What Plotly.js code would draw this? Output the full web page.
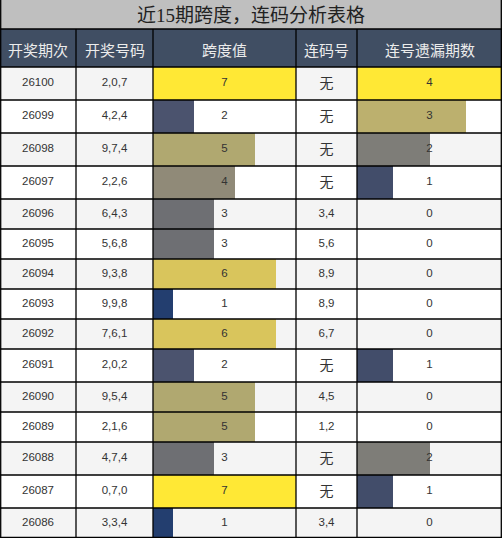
<!DOCTYPE html>
<html>
<head>
<meta charset="utf-8">
<script src="https://cdn.plot.ly/plotly-3.0.1.min.js"></script>
<style>
  html, body { margin: 0; padding: 0; background: #fff; }
  #chart { width: 502px; height: 538px; }
</style>
</head>
<body>
<div id="chart"></div>
<script>
(function() {
  'use strict';

  var title = '近15期跨度，连码分析表格';
  var headers = ['开奖期次', '开奖号码', '跨度值', '连码号', '连号遗漏期数'];
  var periods = ['26100', '26099', '26098', '26097', '26096', '26095', '26094', '26093',
                 '26092', '26091', '26090', '26089', '26088', '26087', '26086'];
  var draws = ['2,0,7', '4,2,4', '9,7,4', '2,2,6', '6,4,3', '5,6,8', '9,3,8', '9,9,8',
               '7,6,1', '2,0,2', '9,5,4', '2,1,6', '4,7,4', '0,7,0', '3,3,4'];
  var spans = [7, 2, 5, 4, 3, 3, 6, 1, 6, 2, 5, 5, 3, 7, 1];
  var pairs = ['无', '无', '无', '无', '3,4', '5,6', '8,9', '8,9',
               '6,7', '无', '4,5', '1,2', '无', '无', '3,4'];
  var misses = [4, 3, 2, 1, 0, 0, 0, 0, 0, 1, 0, 0, 2, 1, 0];

  // colour per value
  var spanColors = { 1: '#233e6f', 2: '#4b536e', 3: '#6e6f73', 4: '#908a78',
                     5: '#b0a870', 6: '#d9c55c', 7: '#ffe835' };
  var missColors = { 1: '#424d6a', 2: '#7e7d78', 3: '#bcb06e', 4: '#ffe835' };

  var W = 502, H = 538;
  var colX = [0, 76, 153, 296, 357, 502];
  var titleBottom = 29, headBottom = 67;

  // row geometry ("无" rows are a bit taller)
  var rowH = pairs.map(function(p) { return p === '无' ? 33 : 30; });
  var rowTop = [], rowMid = [];
  var acc = headBottom;
  rowH.forEach(function(h) { rowTop.push(acc); rowMid.push(acc + h / 2); acc += h; });

  function px(x) { return x / W; }
  function py(y) { return 1 - y / H; }

  function colMid(i) { return (colX[i] + colX[i + 1]) / 2; }

  var shapes = [];
  // title + header backgrounds
  shapes.push({ type: 'rect', xref: 'paper', yref: 'paper', layer: 'below',
    x0: 0, x1: 1, y0: py(0), y1: py(titleBottom), fillcolor: '#bfbfbf', line: { width: 0 } });
  shapes.push({ type: 'rect', xref: 'paper', yref: 'paper', layer: 'below',
    x0: 0, x1: 1, y0: py(titleBottom), y1: py(headBottom), fillcolor: '#404e63', line: { width: 0 } });
  // striped rows
  rowTop.forEach(function(t, i) {
    shapes.push({ type: 'rect', xref: 'paper', yref: 'paper', layer: 'below',
      x0: 0, x1: 1, y0: py(t), y1: py(t + rowH[i]),
      fillcolor: i % 2 === 0 ? '#f4f4f4' : '#ffffff', line: { width: 0 } });
  });
  // grid lines
  var gridLine = { color: '#000', width: 1.3 };
  [titleBottom, headBottom].concat(rowTop.slice(1)).concat([H - 0.7]).forEach(function(y) {
    shapes.push({ type: 'line', xref: 'paper', yref: 'paper', layer: 'above',
      x0: 0, x1: 1, y0: py(y), y1: py(y), line: gridLine });
  });
  [0.7, colX[1], colX[2], colX[3], colX[4], W - 0.7].forEach(function(x) {
    shapes.push({ type: 'line', xref: 'paper', yref: 'paper', layer: 'above',
      x0: px(x), x1: px(x), y0: py(titleBottom), y1: py(H), line: gridLine });
  });
  shapes.push({ type: 'line', xref: 'paper', yref: 'paper', layer: 'above',
    x0: px(0.7), x1: px(0.7), y0: py(0), y1: py(titleBottom), line: gridLine });
  shapes.push({ type: 'line', xref: 'paper', yref: 'paper', layer: 'above',
    x0: px(W - 0.7), x1: px(W - 0.7), y0: py(0), y1: py(titleBottom), line: gridLine });

  var annotations = [];
  annotations.push({
    x: 0.5, y: py(titleBottom / 2 + 0.5), xref: 'paper', yref: 'paper',
    text: title, showarrow: false, xanchor: 'center', yanchor: 'middle',
    font: { family: 'Liberation Serif, Noto Sans CJK SC, serif', size: 19, color: '#222' }
  });
  headers.forEach(function(h, i) {
    annotations.push({
      x: px(colMid(i)), y: py((titleBottom + headBottom) / 2 + 1), xref: 'paper', yref: 'paper',
      text: h, showarrow: false, xanchor: 'center', yanchor: 'middle',
      font: { family: 'Noto Sans CJK SC, sans-serif', size: 15, color: '#ececec' }
    });
  });

  var spanBars = {
    type: 'bar', orientation: 'h', xaxis: 'x', yaxis: 'y',
    x: spans, y: rowMid, width: rowH, base: 0,
    marker: { color: spans.map(function(v) { return spanColors[v]; }), line: { width: 0 } },
    hoverinfo: 'skip', showlegend: false
  };
  var missBars = {
    type: 'bar', orientation: 'h', xaxis: 'x2', yaxis: 'y',
    x: misses, y: rowMid, width: rowH, base: 0,
    marker: { color: misses.map(function(v) { return missColors[v] || '#fff'; }), line: { width: 0 } },
    hoverinfo: 'skip', showlegend: false
  };

  // cell texts
  var tx = [], ty = [], tt = [], ts = [];
  function addCol(ci, vals) {
    vals.forEach(function(v, i) {
      var s = String(v);
      tx.push(colMid(ci));
      ty.push(rowMid[i] + (s === '无' ? 1 : 0));
      tt.push(s);
      ts.push(s === '无' ? 14 : 11.5);
    });
  }
  addCol(0, periods);
  addCol(1, draws);
  addCol(2, spans);
  addCol(3, pairs);
  addCol(4, misses);

  var cellText = {
    type: 'scatter', mode: 'text', xaxis: 'x3', yaxis: 'y',
    x: tx, y: ty, text: tt,
    textposition: 'middle center',
    textfont: { family: 'Liberation Sans, Noto Sans CJK SC, sans-serif', size: ts, color: '#333' },
    hoverinfo: 'skip', showlegend: false, cliponaxis: false
  };

  var hidden = { visible: false, fixedrange: true };
  var layout = {
    width: W, height: H,
    margin: { l: 0, r: 0, t: 0, b: 0, pad: 0 },
    paper_bgcolor: '#fff',
    plot_bgcolor: 'rgba(0,0,0,0)',
    showlegend: false,
    hovermode: false,
    bargap: 0,
    xaxis: Object.assign({ domain: [px(colX[2]), px(colX[3])], range: [0, 7], anchor: 'y' }, hidden),
    xaxis2: Object.assign({ domain: [px(colX[4]), px(colX[5])], range: [0, 4], anchor: 'y' }, hidden),
    xaxis3: Object.assign({ domain: [0, 1], range: [0, W], anchor: 'y' }, hidden),
    yaxis: Object.assign({ domain: [0, 1], range: [H, 0], anchor: 'x3' }, hidden),
    shapes: shapes,
    annotations: annotations
  };

  Plotly.newPlot('chart', [spanBars, missBars, cellText], layout, {
    staticPlot: true, displayModeBar: false
  });
})();
</script>
</body>
</html>
